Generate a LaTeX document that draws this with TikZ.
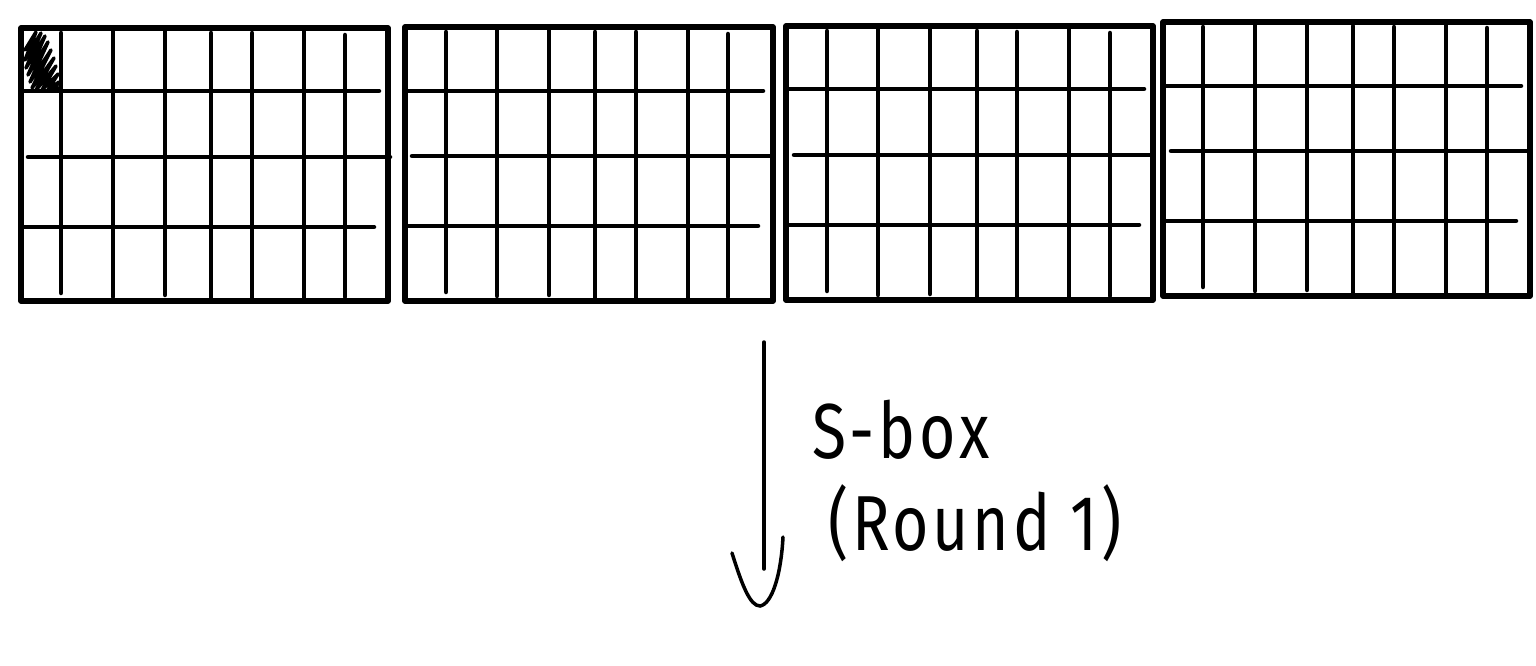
\documentclass[tikz,border=0pt]{standalone}
\usepackage{fontspec}
\newfontfamily\hand[LetterSpace=6]{Fira Sans}
\newcommand{\narrowtext}[1]{\scalebox{0.8}[1]{#1}}
\begin{document}
\begin{tikzpicture}[x=1pt,y=-1pt,
  frame/.style={line width=5.5pt,line join=round},
  gline/.style={line width=4.5pt,line cap=round},
  scribble/.style={line width=3.5pt,line join=round,line cap=round},
  arrowline/.style={line width=3.5pt,line cap=round},
  label/.style={font=\hand\fontsize{78}{90}\selectfont,inner sep=0pt,anchor=base west}]
\useasboundingbox (0,0) rectangle (1536,666);
% grid 1
\draw[frame] (21,28) rectangle (388,301);
\foreach \x/\a/\b in {61/33/293,113/28/297,165/28/295,211/33/301,252/33/301,304/28/300,345/35/297}
  \draw[gline] (\x,\a) -- (\x,\b);
\draw[gline] (21,91) -- (379,91);
\draw[gline] (28,157) -- (390,157);
\draw[gline] (21,227) -- (374,227);
\draw[scribble] (25,50)--(36,32)--(25,60)--(41,33)--(26,68)--(45,36)--(28,75)--(48,42)--(30,82)--(51,50)--(32,88)--(54,58)--(36,90)--(56,66)--(42,90)--(58,74)--(48,90)--(59,82)--(54,90)--(59,88);
% grid 2
\draw[frame] (405,27) rectangle (773,301);
\foreach \x/\a/\b in {446/32/292,497/27/296,549/27/295,595/32/301,636/32/301,688/27/301,728/34/297}
  \draw[gline] (\x,\a) -- (\x,\b);
\draw[gline] (405,91) -- (763,91);
\draw[gline] (412,156) -- (773,156);
\draw[gline] (405,226) -- (758,226);
% grid 3
\draw[frame] (786,26) rectangle (1153,300);
\foreach \x/\a/\b in {827/31/291,878/26/295,930/26/294,977/31/300,1017/32/300,1069/26/300,1110/33/296}
  \draw[gline] (\x,\a) -- (\x,\b);
\draw[gline] (786,89) -- (1144,89);
\draw[gline] (794,155) -- (1153,155);
\draw[gline] (786,225) -- (1139,225);
% grid 4
\draw[frame] (1163,22) rectangle (1530,296);
\foreach \x/\a/\b in {1203/27/287,1255/22/291,1307/22/290,1353/26/296,1394/27/296,1446/22/296,1487/28/292}
  \draw[gline] (\x,\a) -- (\x,\b);
\draw[gline] (1163,86) -- (1521,86);
\draw[gline] (1171,151) -- (1530,151);
\draw[gline] (1163,221) -- (1516,221);
% arrow
\coordinate (astart) at (764,342);
\coordinate (aend) at (764,569);
\draw[arrowline] (astart) -- (aend);
\draw[arrowline] (732,553) .. controls (742,585) and (750,606) .. (760,606) .. controls (772,604) and (781,575) .. (783,537);
% labels
\node[label] (sbox) at (812,458) {\narrowtext{S-box}};
\node[label] (round) at (828,550) {\narrowtext{(Round 1)}};
\end{tikzpicture}
\end{document}
